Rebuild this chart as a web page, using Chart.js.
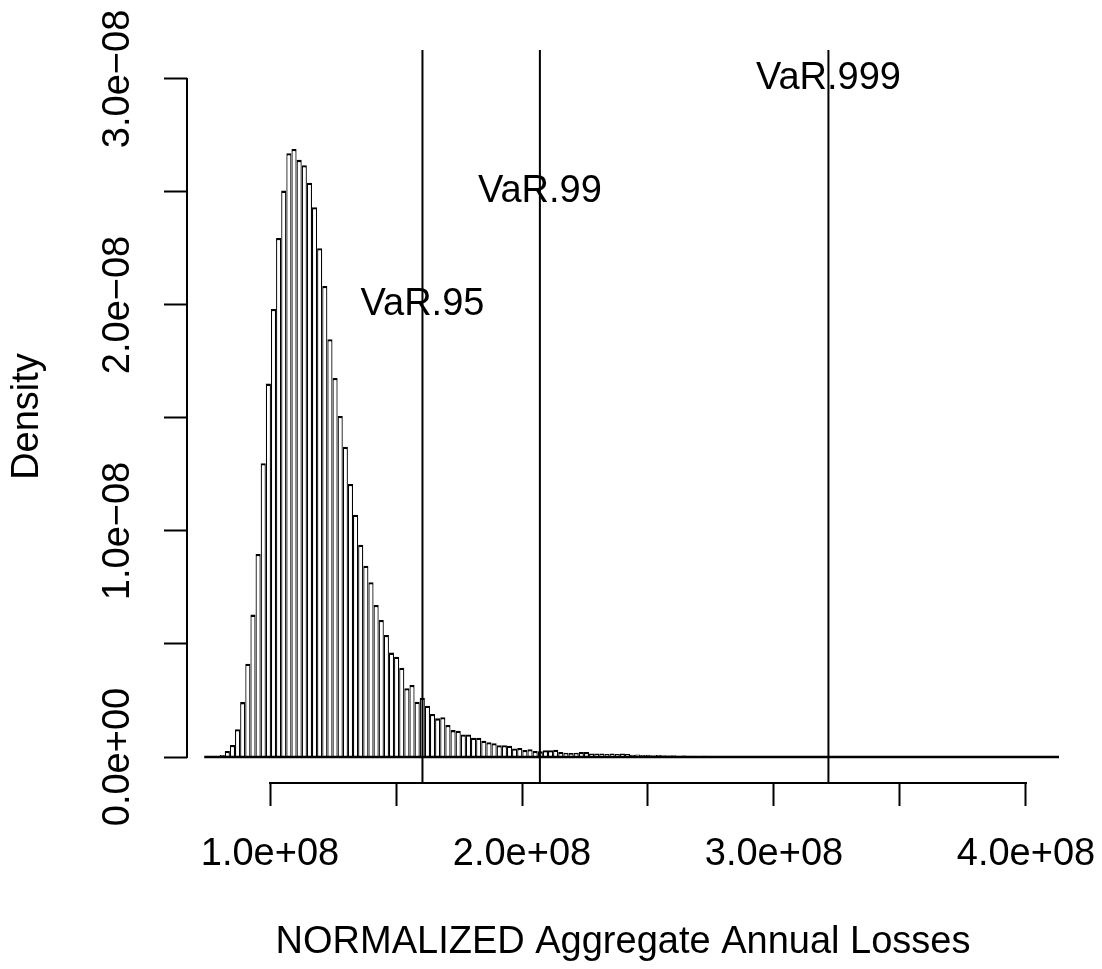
<!DOCTYPE html>
<html lang="en">
<head>
  <meta charset="utf-8">
  <title>NORMALIZED Aggregate Annual Losses - histogram</title>
  <script src="https://cdn.jsdelivr.net/npm/chart.js@4.4.1/dist/chart.umd.min.js"></script>
  <style>
    html, body { margin: 0; padding: 0; background: #ffffff; }
    #holder { width: 1102px; height: 969px; }
  </style>
</head>
<body>
  <div id="holder"><canvas id="chart" width="1102" height="969"></canvas></div>

<script>
  // histogram breaks: first break and bin width (annual losses)
  var binStart = 73.9e6;
  var binWidth = 2.036e6;

  // density of each bin, in units of 1e-08
  var densityE8 = [
    0.001, 0.002, 0.004, 0.009, 0.027, 0.053, 0.123, 0.243, 0.413, 0.630,
    0.898, 1.300, 1.652, 1.982, 2.296, 2.506, 2.671, 2.690, 2.642, 2.618,
    2.541, 2.432, 2.251, 2.084, 1.848, 1.677, 1.509, 1.373, 1.208, 1.072,
    0.939, 0.846, 0.773, 0.673, 0.606, 0.540, 0.462, 0.444, 0.395, 0.304,
    0.319, 0.245, 0.262, 0.227, 0.190, 0.171, 0.176, 0.142, 0.119, 0.116,
    0.100, 0.100, 0.085, 0.085, 0.072, 0.065, 0.061, 0.052, 0.052, 0.050,
    0.038, 0.040, 0.031, 0.034, 0.027, 0.025, 0.030, 0.030, 0.032, 0.022,
    0.019, 0.018, 0.019, 0.022, 0.022, 0.015, 0.015, 0.016, 0.013, 0.015,
    0.013, 0.016, 0.013, 0.010, 0.011, 0.009, 0.010, 0.008, 0.009, 0.008,
    0.007, 0.008, 0.006, 0.007, 0.006, 0.006, 0.005, 0.006, 0.005, 0.004,
    0.005, 0.004, 0.004, 0.005, 0.003, 0.003, 0.004, 0.003, 0.002, 0.003,
    0.003, 0.002, 0.002, 0.003, 0.002, 0.002, 0.001, 0.002, 0.002, 0.001,
    0.002, 0.001, 0.002, 0.001, 0.002, 0.001, 0.001, 0.002, 0.001, 0.001,
    0.002, 0.001, 0.001, 0.001, 0.002, 0.001, 0.001, 0.001, 0.001, 0.002,
    0.001, 0.001, 0.001, 0.001, 0.001, 0.002, 0.001, 0.001, 0.001, 0.001,
    0.001, 0.001, 0.002, 0.001, 0.001, 0.001, 0.001, 0.001, 0.001, 0.001,
    0.001, 0.001, 0.001, 0.001, 0.001, 0.001, 0.001
  ];

  // value-at-risk quantiles
  var varValues = [160.5e6, 207.1e6, 321.6e6];
  var varLabels = ['VaR.95', 'VaR.99', 'VaR.999'];
  var varLabelAt = [2.0e-8, 2.5e-8, 3.0e-8];

  var xTicks = [1.0e8, 1.5e8, 2.0e8, 2.5e8, 3.0e8, 3.5e8, 4.0e8];
  var xTickLabels = ['1.0e+08', '', '2.0e+08', '', '3.0e+08', '', '4.0e+08'];
  var yTicks = [0, 0.5e-8, 1.0e-8, 1.5e-8, 2.0e-8, 2.5e-8, 3.0e-8];
  var yTickLabels = ['0.0e+00', '', '1.0e\u221208', '', '2.0e\u221208', '', '3.0e\u221208'];

  var FONT = "'Liberation Sans', Arial, Helvetica, sans-serif";
  var FONT_SIZE = 38;

  // plot region limits (R pads the ranges by 4%)
  var xMin = 67.06e6, xMax = 413.1e6;
  var yMin = -0.115e-8, yMax = 3.128e-8;

  var histData = densityE8.map(function (d, i) {
    return { x: binStart + binWidth * (i + 0.5), y: d * 1e-8 };
  });
  var binEnd = binStart + binWidth * densityE8.length;

  var varDatasets = varValues.map(function (v, i) {
    return {
      type: 'line',
      label: varLabels[i],
      data: [{ x: v, y: yMin }, { x: v, y: yMax }],
      borderColor: '#000',
      borderWidth: 2,
      pointRadius: 0,
      order: 1
    };
  });

  // axis lines only between first and last tick, plus the VaR texts
  var rStyle = {
    id: 'rStyle',
    afterDatasetsDraw: function (chart) {
      var ctx = chart.ctx;
      var xs = chart.scales.x, ys = chart.scales.y, area = chart.chartArea;
      ctx.save();
      ctx.strokeStyle = '#000';
      ctx.lineWidth = 2;
      ctx.lineCap = 'square';
      ctx.beginPath();
      ctx.moveTo(xs.getPixelForValue(xTicks[0]), area.bottom);
      ctx.lineTo(xs.getPixelForValue(xTicks[xTicks.length - 1]), area.bottom);
      ctx.moveTo(area.left, ys.getPixelForValue(yTicks[0]));
      ctx.lineTo(area.left, ys.getPixelForValue(yTicks[yTicks.length - 1]));
      ctx.stroke();

      ctx.fillStyle = '#000';
      ctx.font = FONT_SIZE + 'px ' + FONT;
      ctx.textAlign = 'center';
      ctx.textBaseline = 'middle';
      varLabels.forEach(function (t, i) {
        ctx.fillText(t, xs.getPixelForValue(varValues[i]), ys.getPixelForValue(varLabelAt[i]));
      });
      ctx.restore();
    }
  };

  var config = {
    type: 'bar',
    data: {
      datasets: [{
        type: 'bar',
        label: 'Density',
        data: histData,
        backgroundColor: '#fff',
        borderColor: '#000',
        borderWidth: { top: 2.3, left: 1.25, right: 1.25, bottom: 0 },
        borderSkipped: 'start',
        barPercentage: 1,
        categoryPercentage: 1,
        inflateAmount: 0,
        order: 3
      }, {
        type: 'line',
        label: 'base',
        data: [{ x: binStart, y: 0 }, { x: binEnd, y: 0 }],
        borderColor: '#000',
        borderWidth: 2.3,
        pointRadius: 0,
        order: 2
      }].concat(varDatasets)
    },
    options: {
      responsive: false,
      animation: false,
      layout: { padding: { top: 50, right: 43, left: 0, bottom: 0 } },
      plugins: {
        legend: { display: false },
        tooltip: { enabled: false }
      },
      scales: {
        x: {
          type: 'linear',
          min: xMin,
          max: xMax,
          offset: false,
          afterBuildTicks: function (axis) {
            axis.ticks = xTicks.map(function (v) { return { value: v }; });
          },
          afterFit: function (axis) {
            axis.height = 186;
            axis.paddingLeft = 0;
            axis.paddingRight = 0;
          },
          grid: {
            offset: false,
            drawOnChartArea: false,
            drawTicks: true,
            tickLength: 23,
            tickWidth: 2,
            tickColor: '#000'
          },
          border: { display: false },
          ticks: {
            autoSkip: false,
            maxRotation: 0,
            minRotation: 0,
            padding: 26,
            color: '#000',
            font: { family: FONT, size: FONT_SIZE },
            callback: function (value, index) { return xTickLabels[index]; }
          },
          title: {
            display: true,
            text: 'NORMALIZED Aggregate Annual Losses',
            color: '#000',
            font: { family: FONT, size: FONT_SIZE },
            padding: { top: 0, bottom: 3.8 }
          }
        },
        y: {
          type: 'linear',
          min: yMin,
          max: yMax,
          afterBuildTicks: function (axis) {
            axis.ticks = yTicks.map(function (v) { return { value: v }; });
          },
          afterFit: function (axis) {
            axis.width = 187;
            axis.paddingTop = 0;
            axis.paddingBottom = 0;
          },
          grid: {
            drawOnChartArea: false,
            drawTicks: true,
            tickLength: 23,
            tickWidth: 2,
            tickColor: '#000'
          },
          border: { display: false },
          ticks: {
            autoSkip: false,
            minRotation: 90,
            maxRotation: 90,
            crossAlign: 'center',
            padding: -23.5,
            color: '#000',
            font: { family: FONT, size: FONT_SIZE },
            callback: function (value, index) { return yTickLabels[index]; }
          },
          title: {
            display: true,
            text: 'Density',
            color: '#000',
            font: { family: FONT, size: FONT_SIZE },
            padding: { top: 4.8, bottom: 0 }
          }
        }
      }
    },
    plugins: [rStyle]
  };

  window.onload = function () {
    var ctx = document.getElementById('chart').getContext('2d');
    window.myHist = new Chart(ctx, config);
  };
</script>
</body>
</html>
